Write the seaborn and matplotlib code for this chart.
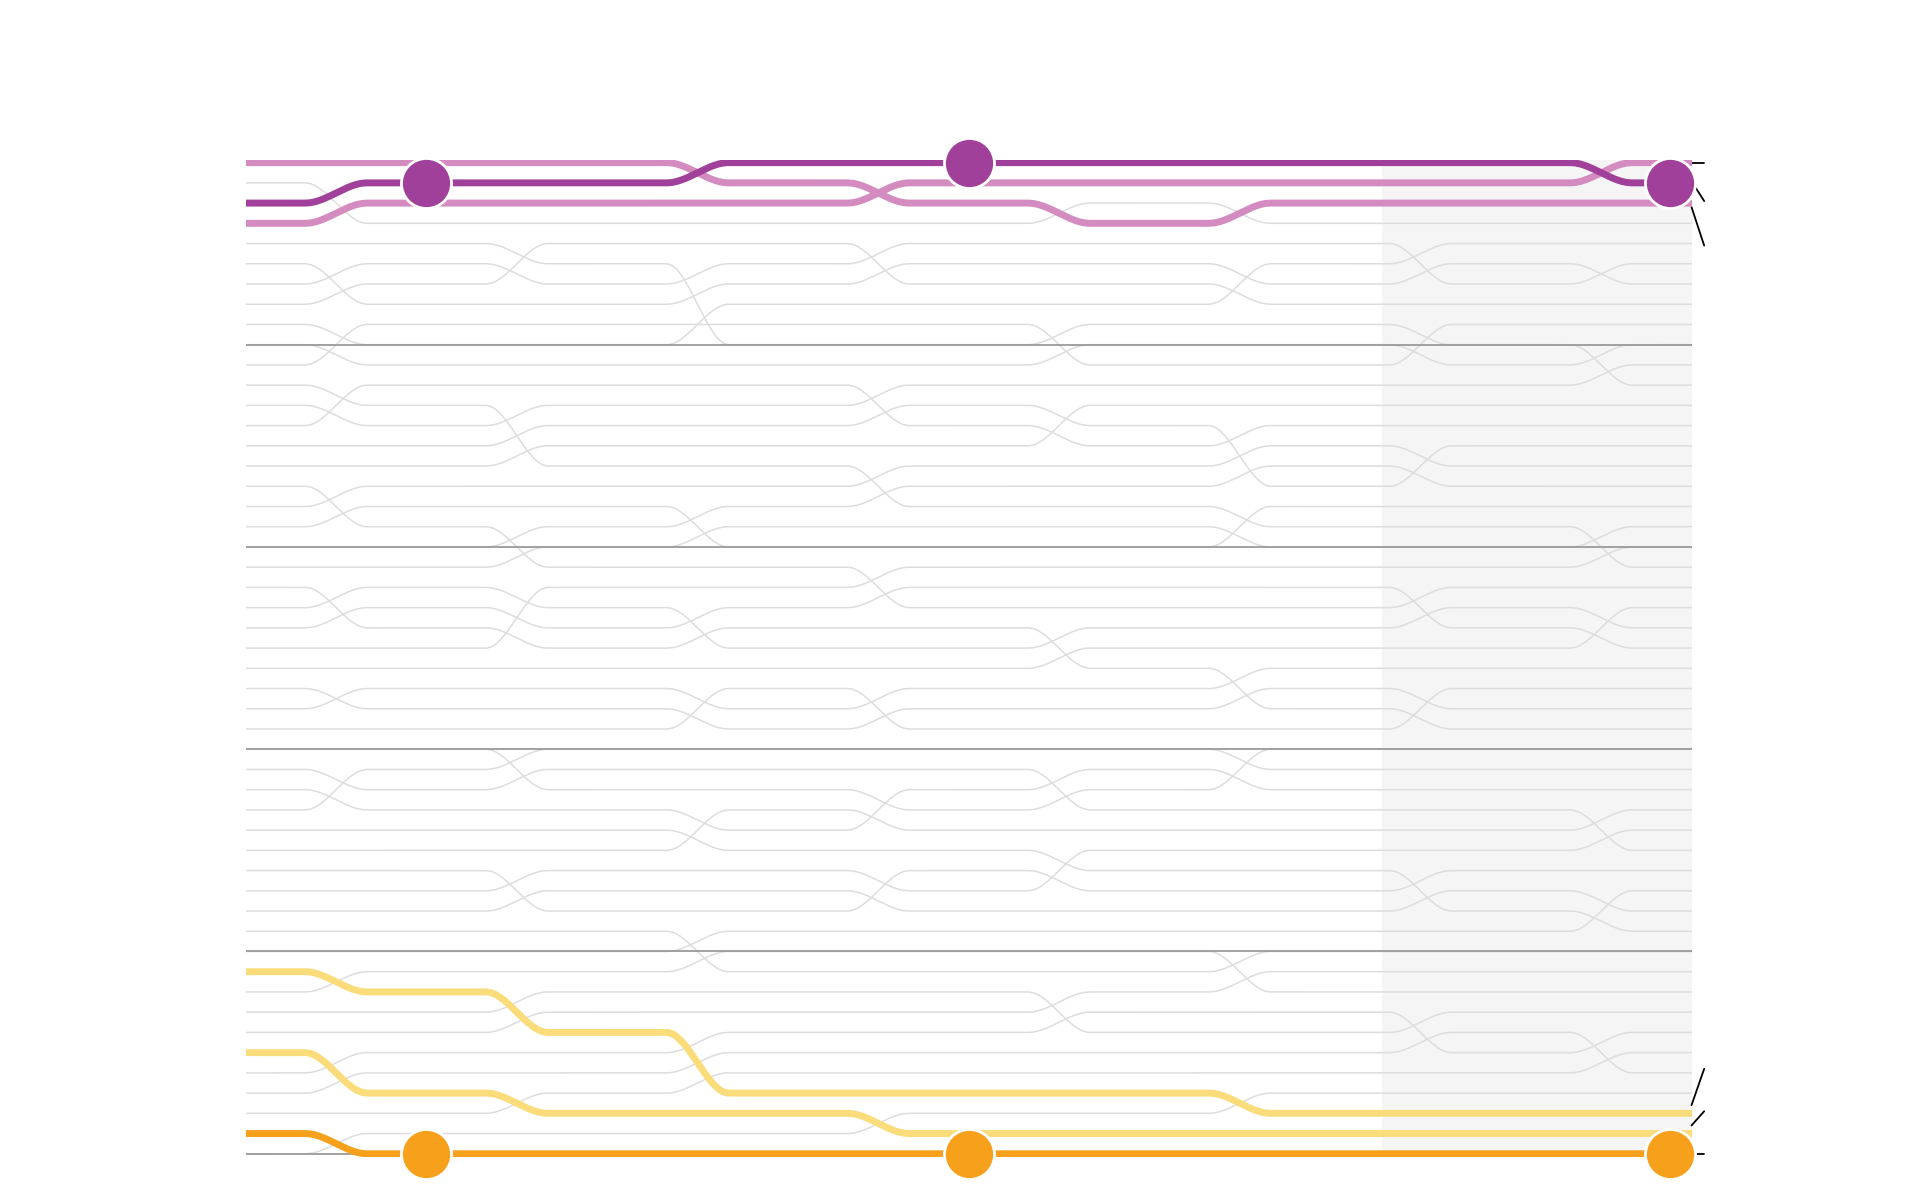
import numpy as np
import pandas as pd
import matplotlib
matplotlib.use("Agg")
import matplotlib.pyplot as plt
import seaborn as sns

sns.set_theme(style="white")

N_RANKS = 50
periods = list(range(9))
# moves per transition: (from_rank, to_rank), applied in order
moves = [
    [(2, 4), (6, 8), (11, 9), (14, 12), (17, 19), (22, 24), (28, 27), (33, 31), (41, 42), (45, 47), (49, 50)],
    [(7, 5), (13, 16), (19, 21), (25, 22), (30, 32), (36, 38), (42, 44), (47, 48)],
    [(1, 2), (6, 9), (10, 8), (18, 20), (23, 25), (29, 27), (35, 33), (39, 41), (44, 47)],
    [(2, 3), (5, 7), (12, 14), (16, 18), (21, 23), (27, 29), (34, 32), (38, 36), (48, 49)],
    [(3, 4), (9, 11), (15, 13), (24, 26), (31, 33), (37, 35), (42, 44)],
    [(4, 3), (8, 6), (14, 17), (20, 18), (26, 28), (32, 30), (40, 42), (47, 48)],
    [(5, 7), (11, 9), (17, 15), (22, 24), (29, 27), (36, 38), (43, 45)],
    [(1, 2), (7, 6), (10, 12), (19, 21), (25, 23), (33, 35), (39, 37), (44, 46)],
]
highlight = {3: "#a0409a", 1: "#d48bc0", 4: "#d48bc0", 41: "#fbdc7a", 45: "#fbdc7a", 49: "#f7a01c"}
dot_lines = {3: "#a0409a", 49: "#f7a01c"}
dot_periods = [1, 4, 8]

# compute ranks
order = list(range(1, N_RANKS + 1))
ranks = {lid: [order.index(lid) + 1] for lid in order}
for mv in moves:
    for a, b in mv:
        lid = order.pop(a - 1)
        order.insert(b - 1, lid)
    for lid in order:
        ranks[lid].append(order.index(lid) + 1)

def curve(r):
    xs, ys = [], []
    for i in range(len(r) - 1):
        t = np.linspace(0, 1, 40)
        s = np.clip((t - 0.33) / 0.34, 0, 1)
        s = s * s * (3 - 2 * s)
        xs.extend(i + t)
        ys.extend(r[i] + (r[i + 1] - r[i]) * s)
    return np.array(xs), np.array(ys)

fig = plt.figure(figsize=(19.2, 12), dpi=100)
ax = fig.add_axes([0.128, 0.036, 0.753, 0.831])
ax.axvspan(6.29, 8, color="#f5f5f5", zorder=0, lw=0)
for r in [10, 20, 30, 40, 50]:
    ax.axhline(r, color="#9a9a9a", lw=1.3, zorder=2.5)

for lid in range(1, N_RANKS + 1):
    if lid in highlight:
        continue
    x, y = curve(ranks[lid])
    sns.lineplot(x=x, y=y, ax=ax, color="#dddddd", lw=1.1, sort=False, zorder=2, estimator=None)
for lid in [1, 4, 41, 45, 3, 49]:
    x, y = curve(ranks[lid])
    sns.lineplot(x=x, y=y, ax=ax, color=highlight[lid], lw=5, sort=False, zorder=3,
                 estimator=None, solid_capstyle="round")
for lid, c in dot_lines.items():
    px = [p if p < 8 else 7.88 for p in dot_periods]
    py = [ranks[lid][p] for p in dot_periods]
    sns.scatterplot(x=px, y=py, ax=ax, color=c, s=1300, edgecolor="white", linewidth=2,
                    zorder=5, clip_on=False)

# leader ticks on right
kw = dict(color="black", lw=1.3, clip_on=False)
ax.plot([8.0, 8.07], [1, 1], **kw)
ax.plot([8.02, 8.07], [2.2, 2.9], **kw)
ax.plot([8.0, 8.07], [3.2, 5.1], **kw)
ax.plot([8.0, 8.07], [47.6, 45.8], **kw)
ax.plot([8.0, 8.07], [48.6, 47.9], **kw)
ax.plot([8.0, 8.07], [50, 50], **kw)

ax.set_xlim(0, 8)
ax.set_ylim(50.15, 0.85)
ax.axis("off")
fig.savefig("out.png", dpi=100)
